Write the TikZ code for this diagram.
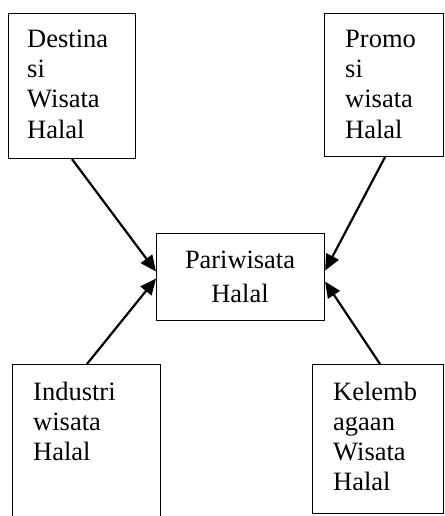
\documentclass[tikz,border=0pt]{standalone}
\usepackage{fontspec}
\setmainfont{Liberation Serif}
\usetikzlibrary{arrows.meta}

\tikzset{
  box/.style={draw=black, line width=1.1pt, fill=none, inner sep=0pt, anchor=north west},
  % multi-line labels are placed by the baseline of their last line
  label/.style={inner sep=0pt, anchor=base west, align=left,
    font=\fontsize{26.5pt}{30pt}\selectfont},
  midlabel/.style={inner sep=0pt, anchor=base, align=center,
    font=\fontsize{26.4pt}{34pt}\selectfont},
  arr/.style={line width=2.2pt, -{Triangle[length=16pt,width=14pt]}},
}

\begin{document}
\begin{tikzpicture}[x=1pt,y=-1pt]
  \useasboundingbox (0,0) rectangle (444,516);
  \clip (0,0) rectangle (444,516);

  % outer boxes
  \node[box, minimum width=127pt, minimum height=145pt] (dest) at (8,13) {};
  \node[box, minimum width=119pt, minimum height=143pt] (promo) at (324,13) {};
  \node[box, minimum width=148pt, minimum height=170pt] (ind) at (12,364) {};
  \node[box, minimum width=131pt, minimum height=149pt] (lemb) at (312,364) {};
  % central box
  \node[box, minimum width=168pt, minimum height=87pt] (pw) at (156,233) {};

  % texts
  \node[label] (destt) at (27,138) {Destina\\si\\Wisata\\Halal};
  \node[label] (promot) at (345,138) {Promo\\si\\wisata\\Halal};
  \node[label] (indt) at (33,460) {Industri\\wisata\\Halal};
  \node[label] (lembt) at (333,490) {Kelemb\\agaan\\Wisata\\Halal};
  \node[midlabel] (pwt) at (240,302) {Pariwisata\\Halal};

  % connectors into the central box
  \draw[arr] ([xshift=64pt]dest.south west) -- ([yshift=5.5pt]pw.west);
  \draw[arr] ([xshift=75pt]ind.north west) -- ([yshift=-1.5pt]pw.west);
  \draw[arr] ([xshift=61pt]promo.south west) -- ([yshift=6.5pt]pw.east);
  \draw[arr] ([xshift=68pt]lemb.north west) -- ([yshift=-4.5pt]pw.east);
\end{tikzpicture}
\end{document}
